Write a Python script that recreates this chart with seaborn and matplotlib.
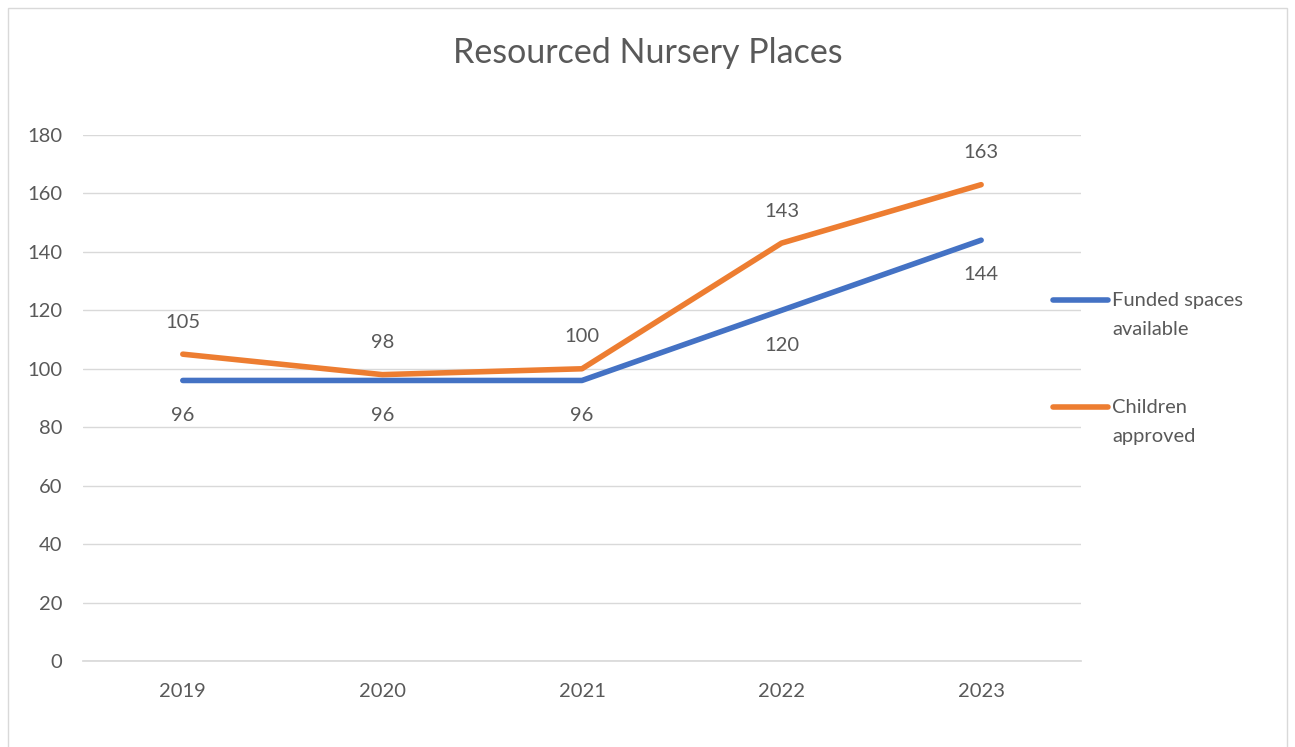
import numpy as np
import pandas as pd
import seaborn as sns
import matplotlib.pyplot as plt
from matplotlib.patches import Rectangle
from matplotlib.lines import Line2D

years = ["2019", "2020", "2021", "2022", "2023"]
funded = [96, 96, 96, 120, 144]
children = [105, 98, 100, 143, 163]
series_names = ["Funded spaces\navailable", "Children\napproved"]
colors = ["#4472C4", "#ED7D31"]

df = pd.DataFrame({
    "year": years * 2,
    "value": funded + children,
    "series": [series_names[0]] * 5 + [series_names[1]] * 5,
})

sns.set_theme(style="white")
plt.rcParams["font.family"] = ["Lato", "DejaVu Sans"]
text_col = "#595959"
fs = 14.5

fig = plt.figure(figsize=(12.95, 7.47), dpi=100)
ax = fig.add_axes([0.0641, 0.1151, 0.7706, 0.7042])

sns.lineplot(data=df, x="year", y="value", hue="series", palette=colors,
             linewidth=4, ax=ax, sort=False, legend=False)

ax.set_xlim(-0.5, 4.5)
ax.set_ylim(0, 180)
ax.set_yticks(np.arange(0, 181, 20))
ax.yaxis.grid(True, color="#D9D9D9", linewidth=1)
ax.set_axisbelow(True)
for s in ["top", "right", "left"]:
    ax.spines[s].set_visible(False)
ax.spines["bottom"].set_color("#D9D9D9")
ax.tick_params(axis="both", length=0, labelsize=fs, colors=text_col)
ax.tick_params(axis="x", pad=16)
ax.tick_params(axis="y", pad=15)
ax.set_xlabel("")
ax.set_ylabel("")

# data labels
for i, v in enumerate(funded):
    ax.annotate(str(v), (i, v), textcoords="offset points", xytext=(0, -25),
                ha="center", va="center", fontsize=fs, color=text_col)
for i, v in enumerate(children):
    ax.annotate(str(v), (i, v), textcoords="offset points", xytext=(0, 23),
                ha="center", va="center", fontsize=fs, color=text_col)

# legend (handle aligned with first text line, as in the original)
leg_y = [1 - 300 / 747, 1 - 407 / 747]
for name, c, y in zip(series_names, colors, leg_y):
    fig.lines.append(Line2D([1053 / 1295, 1108 / 1295], [y, y], color=c,
                            linewidth=4, transform=fig.transFigure))
    fig.text(1112 / 1295, y + 8 / 747, name, ha="left", va="top",
             fontsize=fs, color=text_col, linespacing=1.85)

fig.text(0.5, 1 - 53 / 747, "Resourced Nursery Places", ha="center", va="center",
         fontsize=24.5, color=text_col)

fig.patches.append(Rectangle((8 / 1295, -0.05), 1279 / 1295, 1.05 - 8 / 747,
                             transform=fig.transFigure, fill=False,
                             edgecolor="#D9D9D9", linewidth=1))

fig.savefig("out.png", dpi=100)
